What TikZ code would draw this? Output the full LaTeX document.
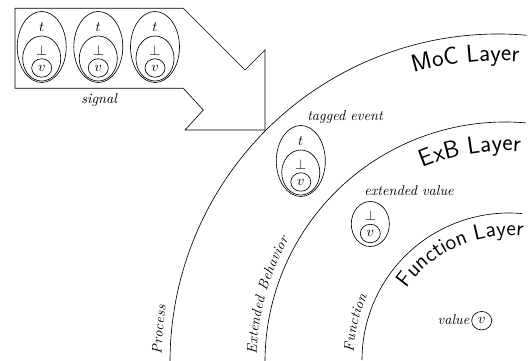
\documentclass[tikz,border=0pt]{standalone}
\usetikzlibrary{shapes.geometric,decorations.text}
\newcommand{\fnlayerfont}{\fontsize{15.4pt}{18pt}\selectfont\sffamily}
\newcommand{\bglayerfont}{\LARGE\sffamily}
\begin{document}
\begin{tikzpicture}[x=0.704pt,y=0.704pt,line width=0.45pt,
  every node/.style={inner sep=0pt, outer sep=0pt},
  ell/.style={draw, ellipse, inner sep=0pt},
  outerell/.style={ell, minimum width=34.5pt, minimum height=50pt},
  midell/.style={ell, minimum width=26.8pt, minimum height=31.7pt},
  vell/.style={ell, minimum width=14.1pt, minimum height=13pt},
  lab/.style={font=\itshape},
  layertext/.style={decorate, decoration={text along path, text align=right, text={|\bglayerfont|#1}}},
  fnlayertext/.style={decorate, decoration={text along path, text align=right, text={|\fnlayerfont|#1}}},
  arctext/.style={decorate, decoration={text along path, raise=6pt, text align={left indent=5pt}, text={|\itshape|#1}}}
]
\useasboundingbox (0,0) rectangle (529,361);

% signal block arrow
\draw (15,352.7) -- (183.3,352.7) -- (245,291) -- (265,311) -- (265,231)
  -- (185,231) -- (203.3,251) -- (183.3,272.7) -- (15,272.7) -- cycle;

% signal events
\foreach \i/\x in {1/41.7,2/98.3,3/155}{
  \node[outerell] (sigout\i) at (\x,314) {};
  \node[midell] (sigmid\i) at (\x,302.5) {};
  \node[vell] (sigv\i) at (\x,293) {$v$};
  \node (sigt\i) at (\x,334) {$t$};
  \node (sigb\i) at (\x,310.5) {$\perp$};
}
\node[lab] (signal) at (99.2,261) {signal};

% arcs
\coordinate (O1) at (498,-1);
\coordinate (O2) at (505,-1);
\coordinate (O3) at (509,1);
\draw (O1) ++(180:328) arc[start angle=180,end angle=85,radius=328];
\draw (O2) ++(180:240) arc[start angle=180,end angle=85,radius=240];
\draw (O3) ++(180:147) arc[start angle=180,end angle=85,radius=147];

% layer names
\path[layertext={MoC Layer}] (O1) ++(180:301) arc[start angle=180,end angle=86,radius=301];
\path[layertext={ExB Layer}] (O2) ++(180:211) arc[start angle=180,end angle=85.8,radius=211];
\path[fnlayertext={Function Layer}] (O3) ++(180:124.5) arc[start angle=180,end angle=83.5,radius=124.5];

% arc labels
\path[arctext={Process}] (O1) ++(180:328) arc[start angle=180,end angle=85,radius=328];
\path[arctext={Extended Behavior}] (O2) ++(180:240) arc[start angle=180,end angle=85,radius=240];
\path[arctext={Function}] (O3) ++(180:147) arc[start angle=180,end angle=85,radius=147];

% tagged event
\node[outerell] (teout) at (300.8,200) {};
\node[midell] (temid) at (300.8,188.5) {};
\node[vell] (tev) at (300.8,179) {$v$};
\node (tet) at (300.8,220) {$t$};
\node (teb) at (300.8,196) {$\perp$};
\node[lab] (telabel) at (345,244.3) {tagged event};

% extended value
\node[midell] (exmid) at (370.3,137) {};
\node[vell] (exv) at (370.3,127.5) {$v$};
\node (exb) at (370.3,145) {$\perp$};
\node[lab] (exlabel) at (409,170) {extended value};

% value
\node[vell] (valv) at (481.7,40.3) {$v$};
\node[lab, anchor=east] (vallabel) at (469.3,41) {value};
\end{tikzpicture}
\end{document}
